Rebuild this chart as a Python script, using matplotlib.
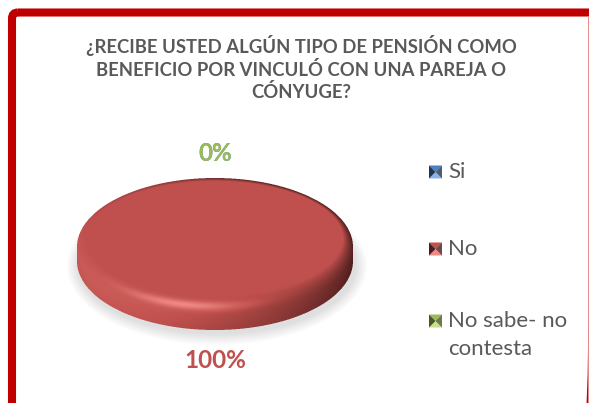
import numpy as np
import matplotlib.pyplot as plt
from matplotlib.patches import Polygon, Ellipse, FancyBboxPatch
from matplotlib.colors import to_rgb

# survey answers
categories = ["Si", "No", "No sabe- no\ncontesta"]
values = [0, 100, 0]
colors = ["#4F81BD", "#C0504D", "#9BBB59"]
dark_colors = ["#1F3556", "#4A1C1B", "#46581F"]
light_colors = ["#8DB3E6", "#F28A84", "#C6E08E"]
title = "¿RECIBE USTED ALGÚN TIPO DE PENSIÓN COMO\nBENEFICIO POR VINCULÓ CON UNA PAREJA O\nCÓNYUGE?"

W, H = 589, 403
fig = plt.figure(figsize=(W / 100, H / 100), dpi=100)
ax = fig.add_axes([0, 0, 1, 1])
ax.set_xlim(0, W)
ax.set_ylim(H, 0)
ax.axis("off")

# frame (red border, rounded top-left)
frame = FancyBboxPatch((12, 12.5), 582, 420, boxstyle="round,pad=0,rounding_size=6",
                       fill=False, edgecolor="#C00000", linewidth=5.8, zorder=1)
ax.add_patch(frame)
ax.plot([588.3, 588.3], [16, H], color="#EA8A8A", lw=0.7, zorder=1)

ax.text(301, 68.5, title, ha="center", va="center", fontsize=13.3,
        fontweight="bold", color="#595959", family="Lato", linespacing=1.3)

# 3d pie geometry (pixel units)
cx, cy = 215, 247
rx, ry = 138, 69
depth = 14
icy, irx, iry = 238.5, 128, 57.5   # flat part of the top face

# soft shadow under the pie
for i in range(8):
    ax.add_patch(Ellipse((cx + 2, cy + depth + 5), 2 * (rx + 12 - i * 1.5), 2 * (ry + 10 - i * 1.5),
                         facecolor="#000000", alpha=0.016, edgecolor="none", zorder=2))

total = sum(values)
bounds = np.cumsum([0] + [360.0 * v / total for v in values])

# render the shaded disc as an image (supersampled)
ss = 3
x0, x1 = cx - rx - 2, cx + rx + 2
y0, y1 = cy - ry - 2, cy + ry + depth + 2
nx, ny = int((x1 - x0) * ss), int((y1 - y0) * ss)
px = x0 + (np.arange(nx) + 0.5) / ss
py = y0 + (np.arange(ny) + 0.5) / ss
X, Y = np.meshgrid(px, py)
u = (X - cx) / rx
vt = (Y - cy) / ry
vb = (Y - cy - depth) / ry
rt = np.sqrt(u ** 2 + vt ** 2)
rb = np.sqrt(u ** 2 + vb ** 2)
ri = np.sqrt(((X - cx) / irx) ** 2 + ((Y - icy) / iry) ** 2)
inside = (rt <= 1) | (rb <= 1) | ((np.abs(u) <= 1) & (Y >= cy) & (Y <= cy + depth))
on_side = (rt > 1) & inside
bevel = (rt <= 1) & (ri > 1)

# angle in screen coords (0 = right, 90 = front, 180 = left)
ang_top = np.degrees(np.arctan2(vt, u))
ang_side = np.degrees(np.arctan2(np.sqrt(np.clip(1 - u ** 2, 0, 1)), u))
ang = np.where(on_side, ang_side, ang_top)
cw = (ang + 90) % 360   # clockwise from top, used for slices

# lighting
phi = np.radians(ang)
dot = np.cos(phi) * -0.87 + np.sin(phi) * 0.5
s = np.clip((ri - 1) / np.maximum((ri - 1) + (1 - rt), 1e-6), 0, 1)
spec = np.exp(-((ang - 105) / 28) ** 2) * np.exp(-((s - 0.55) / 0.22) ** 2)
shade = np.zeros_like(u)
shade = np.where(bevel, s * (0.6 * dot - 0.4) + 0.95 * spec, shade)
side_frac = np.clip((Y - cy - ry * np.sqrt(np.clip(1 - u ** 2, 0, 1))) / depth, 0, 1)
shade = np.where(on_side, 0.6 * dot - 0.4 - 0.1 * side_frac, shade)
shade = np.clip(shade, -1, 1)

img = np.zeros((ny, nx, 4))
for v, c, dc, lc, a0, a1 in zip(values, colors, dark_colors, light_colors, bounds[:-1], bounds[1:]):
    if v == 0:
        continue
    m = inside & (cw >= a0) & (cw < a1) if a1 - a0 < 360 else inside
    base = np.array(to_rgb(c))
    dark = np.array(to_rgb(dc))
    light = np.array(to_rgb(lc))
    pos = np.clip(shade, 0, 1)[..., None]
    neg = np.clip(-shade, 0, 1)[..., None]
    col = base + pos * (light - base) + neg * (dark - base)
    img[m, :3] = col[m]
    img[m, 3] = 1.0
# downsample
img = img.reshape(ny // ss, ss, nx // ss, ss, 4)
alpha = img[..., 3].mean(axis=(1, 3))
rgb = (img[..., :3] * img[..., 3:4]).sum(axis=(1, 3)) / np.maximum(img[..., 3].sum(axis=(1, 3)), 1e-9)[..., None]
out = np.dstack([rgb, alpha])
ax.imshow(out, extent=(x0, x0 + out.shape[1], y0 + out.shape[0], y0), origin="upper",
          interpolation="bilinear", zorder=3)
ax.set_xlim(0, W)
ax.set_ylim(H, 0)

# percentage labels
for v, c, a0, a1 in zip(values, colors, bounds[:-1], bounds[1:]):
    mid = np.radians(90 - (a0 + a1) / 2)
    lx = cx + rx * np.cos(mid)
    ly = cy - ry * 1.35 * np.sin(mid)
    if np.sin(mid) < -0.01:
        ly += depth + 6
    ax.text(lx, ly, f"{v / total * 100:.0f}%", ha="center", va="center", fontsize=17.5,
            fontweight="bold", color=c, family="Lato", zorder=6)

# legend with bevelled squares
leg_base = [178, 255, 327]
ms = 13
for lab, c, dc, lc, yb in zip(categories, colors, dark_colors, light_colors, leg_base):
    y = yb - 6
    xa = 429
    ya = y - ms / 2
    xb, yb2 = xa + ms, ya + ms
    xc, yc = xa + ms / 2, ya + ms / 2
    ax.add_patch(Polygon([(xa, ya), (xb, ya), (xc, yc)], facecolor=c, edgecolor="none", zorder=6))
    ax.add_patch(Polygon([(xa, yb2), (xb, yb2), (xc, yc)], facecolor=lc, edgecolor="none", zorder=6))
    ax.add_patch(Polygon([(xa, ya), (xa, yb2), (xc, yc)], facecolor=dc, edgecolor="none", zorder=6))
    ax.add_patch(Polygon([(xb, ya), (xb, yb2), (xc, yc)], facecolor=dc, edgecolor="none", zorder=6, alpha=0.8))
    for k, line in enumerate(lab.split("\n")):
        ax.text(448, yb + 28 * k, line, ha="left", va="baseline", fontsize=16,
                color="#595959", family="Lato", zorder=6)

fig.savefig("out.png", dpi=100)
